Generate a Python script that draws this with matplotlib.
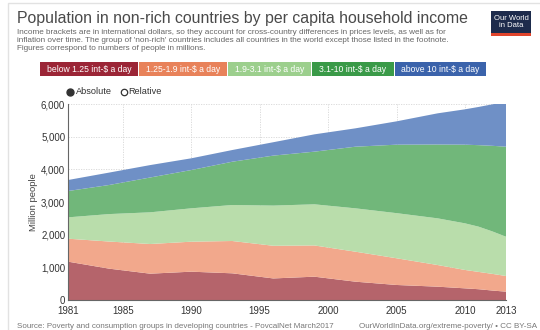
import numpy as np
import matplotlib.pyplot as plt
from matplotlib.patches import Rectangle
from matplotlib.lines import Line2D

plt.rcParams['font.family'] = ['Liberation Sans', 'DejaVu Sans']

# data (million people)
years = [1981, 1984, 1987, 1990, 1993, 1996, 1999, 2002, 2005, 2008, 2010, 2011, 2012, 2013]
below_125 = [1174, 960, 806, 867, 817, 660, 714, 561, 460, 408, 357, 330, 290, 255]
b125_19 = [703, 830, 908, 918, 989, 1000, 956, 918, 818, 663, 563, 530, 510, 480]
b19_31 = [653, 840, 970, 1021, 1102, 1230, 1259, 1327, 1381, 1429, 1427, 1385, 1300, 1203]
b31_10 = [806, 890, 1066, 1172, 1325, 1530, 1612, 1887, 2096, 2260, 2408, 2495, 2620, 2755]
above_10 = [337, 380, 380, 359, 358, 410, 530, 562, 714, 954, 1082, 1170, 1270, 1377]

labels = ['below 1.25 int-$ a day', '1.25-1.9 int-$ a day', '1.9-3.1 int-$ a day',
          '3.1-10 int-$ a day', 'above 10 int-$ a day']
area_colors = ['#b5646b', '#f2a88c', '#b9ddab', '#71b77a', '#6f90c6']
button_colors = ['#9b2536', '#e8825a', '#9ccf8d', '#3a9a48', '#3b63ab']
xticks = [1981, 1985, 1990, 1995, 2000, 2005, 2010, 2013]
yticks = [0, 1000, 2000, 3000, 4000, 5000, 6000]

W, H = 540, 330
fig = plt.figure(figsize=(W / 100, H / 100), dpi=100)

def fx(x):
    return x / W

def fy(y):
    return 1 - y / H

# light frame
fig.patches.append(Rectangle((fx(8), fy(345)), fx(560), fy(3) - fy(345), transform=fig.transFigure,
                             fill=False, edgecolor='#e2e2e2', lw=1))

fig.text(fx(17), fy(19), 'Population in non-rich countries by per capita household income',
         fontsize=11.4, color='#4a4a4a', va='center', ha='left')
sub = ("Income brackets are in international dollars, so they account for cross-country differences in prices levels, as well as for\n"
       "inflation over time. The group of 'non-rich' countries includes all countries in the world except those listed in the footnote.\n"
       "Figures correspond to numbers of people in millions.")
fig.text(fx(17), fy(29), sub, fontsize=5.9, color='#666666', va='top', ha='left', linespacing=1.2)

# logo
fig.patches.append(Rectangle((fx(491), fy(36)), fx(40), fy(11) - fy(36), transform=fig.transFigure,
                             facecolor='#1d2b4c', edgecolor='none'))
fig.patches.append(Rectangle((fx(491), fy(36)), fx(40), fy(33) - fy(36), transform=fig.transFigure,
                             facecolor='#e0442c', edgecolor='none'))
fig.text(fx(511), fy(22), 'Our World\nin Data', fontsize=5.5, color='white', ha='center', va='center',
         linespacing=0.95)

# legend buttons
edges = [40, 139, 228, 312, 395, 487]
for i, lab in enumerate(labels):
    x0, x1 = edges[i], edges[i + 1] - 1
    fig.patches.append(Rectangle((fx(x0), fy(76)), fx(x1 - x0), fy(62) - fy(76), transform=fig.transFigure,
                                 facecolor=button_colors[i], edgecolor='none'))
    fig.text(fx((x0 + x1) / 2), fy(69), lab, fontsize=6.2, color='white', ha='center', va='center')

# absolute / relative
fig.add_artist(Line2D([fx(70.3)], [fy(91.5)], marker='o', ms=5, color='#333333', transform=fig.transFigure))
fig.text(fx(75.5), fy(91.5), 'Absolute', fontsize=6.6, color='#333333', va='center')
fig.add_artist(Line2D([fx(123.5)], [fy(91.5)], marker='o', ms=4.6, mfc='white', mec='#333333', mew=0.9,
                      transform=fig.transFigure))
fig.text(fx(128.5), fy(91.5), 'Relative', fontsize=6.6, color='#333333', va='center')

ax = fig.add_axes([fx(68), fy(300), fx(506 - 68), fy(104) - fy(300)])
ax.stackplot(years, below_125, b125_19, b19_31, b31_10, above_10, colors=area_colors, lw=0, zorder=2)
ax.set_xlim(1981, 2013)
ax.set_ylim(0, 6000)
ax.set_xticks(xticks)
ax.set_yticks(yticks)
ax.set_yticklabels([f'{v:,}' for v in yticks])
ax.tick_params(labelsize=7, labelcolor='#333333', length=0, pad=2)
ax.tick_params(axis='x', pad=4)
ax.grid(True, color='#d6d6d6', ls=(0, (1.5, 1.5)), lw=0.6, zorder=0)
ax.set_axisbelow(True)
for s in ['top', 'right']:
    ax.spines[s].set_visible(False)
ax.spines['left'].set_color('#666666')
ax.spines['left'].set_linewidth(0.8)
ax.spines['bottom'].set_color('#666666')
ax.spines['bottom'].set_linewidth(0.8)
ax.set_ylabel('Million people', fontsize=6.8, color='#444444', labelpad=2)

fig.text(fx(17), fy(323.5), 'Source: Poverty and consumption groups in developing countries - PovcalNet March2017',
         fontsize=5.8, color='#777777', va='top')
fig.text(fx(537), fy(323.5), 'OurWorldInData.org/extreme-poverty/ \u2022 CC BY-SA',
         fontsize=5.8, color='#777777', va='top', ha='right')

fig.savefig('out.png', dpi=100)
